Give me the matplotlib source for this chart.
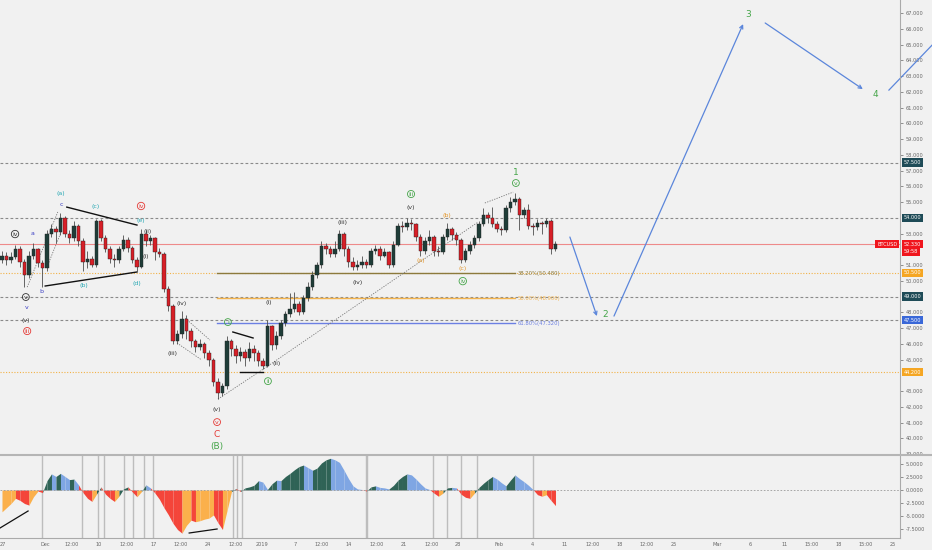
import matplotlib
matplotlib.use("Agg")
from matplotlib import pyplot as plt
from matplotlib.transforms import blended_transform_factory

# candle closes, one per bar (bar 0 = first visible candle)
closes = [51.6, 51.3, 51.5, 52.0, 51.2, 50.4, 51.6, 52.0, 51.1, 50.8,
          53.0, 53.3, 53.1, 54.0, 53.0, 52.7, 53.5, 52.5, 51.2, 51.4,
          51.0, 53.8, 52.7, 52.0, 51.4, 51.3, 52.0, 52.6, 52.1, 51.3,
          50.9, 53.0, 52.5, 52.7, 51.8, 51.7, 49.5, 48.4, 46.2, 46.6,
          47.6, 46.8, 46.2, 45.8, 46.0, 45.4, 45.0, 43.6, 42.9, 43.3,
          46.2, 45.7, 45.2, 45.5, 45.1, 45.7, 45.4, 44.9, 44.6, 47.1,
          45.9, 46.5, 47.3, 47.9, 48.2, 48.5, 48.0, 48.9, 49.6, 50.4,
          51.0, 52.2, 52.0, 51.7, 52.0, 53.0, 52.0, 51.2, 50.9, 51.0,
          51.2, 51.0, 51.9, 52.0, 51.6, 51.8, 51.0, 52.3, 53.5, 53.4,
          53.7, 53.6, 52.8, 51.9, 52.5, 52.8, 51.9, 51.8, 52.8, 53.3,
          52.9, 52.6, 51.3, 51.9, 52.3, 52.7, 53.6, 54.2, 54.0, 53.6,
          53.3, 53.2, 54.6, 55.0, 55.2, 54.2, 54.5, 53.5, 53.4, 53.7,
          53.6, 53.8, 52.0, 52.35]
first_open = 51.3
highs = [51.9, 51.8, 51.8, 52.3, 52.2, 51.4, 51.9, 52.4, 52.1, 51.3,
         53.2, 53.6, 53.5, 54.3, 54.1, 53.2, 53.8, 53.6, 52.7, 51.9,
         51.6, 53.9, 53.9, 52.9, 52.2, 51.7, 52.2, 52.9, 52.8, 52.2,
         51.5, 53.3, 53.2, 52.9, 52.8, 52.1, 51.8, 49.7, 48.5, 46.9,
         48.1, 47.8, 47.0, 46.3, 46.3, 46.1, 45.6, 45.1, 43.8, 43.5,
         46.5, 46.3, 45.9, 45.8, 45.7, 46.1, 45.9, 45.6, 45.1, 47.5,
         47.2, 46.8, 47.5, 48.1, 49.2, 49.3, 48.7, 49.1, 49.9, 50.6,
         51.2, 52.5, 52.4, 52.2, 52.5, 53.2, 53.1, 52.2, 51.5, 51.3,
         51.6, 51.4, 52.1, 52.3, 52.2, 52.1, 51.9, 52.5, 53.7, 53.8,
         54.0, 53.9, 53.7, 53.0, 52.8, 53.2, 52.9, 52.2, 53.0, 53.7,
         53.4, 53.1, 52.7, 52.1, 52.5, 52.9, 53.8, 54.6, 54.4, 54.7,
         53.8, 53.5, 54.8, 55.3, 55.6, 55.3, 54.7, 54.9, 53.7, 53.9,
         53.8, 54.0, 53.9, 52.5]
lows = [51.1, 51.0, 51.1, 51.4, 50.9, 49.6, 50.2, 51.4, 50.9, 49.6,
        50.6, 52.8, 52.4, 52.9, 52.8, 52.4, 52.5, 52.2, 50.6, 50.8,
        50.9, 50.9, 52.5, 51.8, 51.1, 50.9, 51.1, 51.9, 51.8, 51.1,
        50.6, 50.8, 52.2, 52.3, 51.3, 51.5, 49.3, 48.1, 46.0, 46.0,
        46.4, 46.3, 45.8, 45.5, 45.6, 45.1, 44.6, 43.3, 42.5, 42.7,
        43.1, 45.2, 44.8, 44.9, 44.6, 44.9, 44.9, 44.6, 44.4, 44.5,
        45.6, 45.7, 46.3, 47.1, 47.7, 48.0, 47.8, 47.9, 48.7, 49.4,
        50.2, 50.8, 51.7, 51.5, 51.5, 51.9, 51.6, 50.9, 50.7, 50.7,
        50.8, 50.8, 50.9, 51.7, 51.3, 51.5, 50.8, 50.9, 52.2, 53.1,
        53.2, 53.2, 52.5, 51.6, 51.7, 52.3, 51.6, 51.6, 51.7, 52.6,
        52.6, 52.3, 51.1, 51.2, 51.7, 52.1, 52.5, 53.5, 53.7, 53.4,
        53.1, 52.9, 53.1, 54.4, 54.8, 53.2, 54.0, 53.3, 52.9, 53.2,
        53.0, 53.4, 51.7, 51.9]

# oscillator below the price pane, one value per bar
osc = [-4.2, -3.4, -2.6, -1.6, -2.0, -2.6, -2.9, -1.3, -0.2, -0.5,
       1.8, 3.1, 2.6, 3.2, 2.6, 2.0, 2.1, 1.0, -0.5, -1.6,
       -2.2, -0.8, 0.6, -0.8, -1.6, -2.2, -1.2, 0.2, 0.6, -0.4,
       -1.3, -0.3, 1.0, 0.4, -0.6, -1.8, -3.4, -4.8, -6.4, -7.6,
       -8.3, -6.8, -5.8, -6.1, -5.9, -5.6, -5.4, -4.8, -6.3, -7.6,
       -4.0, -0.3, 0.3, -0.3, 0.4, 0.6, 0.9, 1.8, 1.5, 0.1,
       1.2, 1.9, 1.8, 2.6, 3.2, 3.9, 4.5, 4.8, 4.3, 3.8,
       4.2, 5.2, 5.8, 6.1, 5.8, 5.3, 3.8, 2.2, 0.8, 0.2,
       0.1, -0.2, 0.6, 0.8, 0.5, 0.4, 0.2, 0.9, 1.9, 2.6,
       3.1, 2.9, 2.1, 1.2, 0.4, 0.1, -0.6, -1.2, -0.6, 0.4,
       0.5, 0.4, -0.8, -1.4, -1.6, -0.6, 0.5, 1.3, 2.0, 2.6,
       2.1, 1.4, 0.8, 1.9, 2.9, 2.2, 1.6, 0.9, 0.1, -0.9,
       -1.2, -0.9, -2.0, -3.0]
osc_marks = [9, 17.8, 21.3, 22.7, 27.1, 29.1, 31.6, 33.6, 51.3, 52.2, 53.3,
             80.9, 81.1, 95.8, 98.9, 102, 105.6, 118]

time_pos = [0.2, 9.6, 15.6, 21.6, 27.8, 33.6, 39.8, 45.8, 52.0, 57.8, 65.1,
            71.1, 77.1, 83.3, 89.3, 95.6, 101.3, 110.4, 117.8, 125.1, 131.3,
            137.3, 143.3, 149.3, 158.9, 166.2, 174.0, 180.0, 186.0, 192.0, 198.0]
time_labels = ["27", "Dec", "12:00", "10", "12:00", "17", "12:00", "24", "12:00",
               "2019", "7", "12:00", "14", "12:00", "21", "12:00", "28", "Feb",
               "4", "11", "12:00", "18", "12:00", "25", "Mar", "6", "11",
               "15:00", "18", "15:00", "25"]

last_price = 52.33
# horizontal levels: price, line colour, style, tag colour
levels = [(57.5, "#8a8a8a", "dash", "#1e4b57"),
          (54.0, "#8a8a8a", "dash", "#1e4b57"),
          (50.5, "#f2b247", "dot", "#f5a623"),
          (49.0, "#8a8a8a", "dash", "#1e4b57"),
          (47.5, "#8a8a8a", "dash", "#3a68d8"),
          (44.2, "#f2b247", "dot", "#f5a623")]

fib_start, fib_end = 47.8, 114.0
fib_levels = [(50.48, "38.20%(50.480)", "#8c7a3c"),
              (48.90, "50.00%(48.900)", "#f3b34c"),
              (47.32, "61.80%(47.320)", "#6b7fe3")]

DARK, TEAL, BLUE, RED, GREEN, ORANGE = "#333333", "#25a7b3", "#3b3fc4", "#e53935", "#45a549", "#e3962a"
# wave labels: bar, price, text, colour, circled
waves = [(2.9, 52.97, "iv", DARK, True), (5.3, 48.97, "v", DARK, True),
         (5.6, 48.33, "v", BLUE, False), (5.3, 47.51, "(v)", DARK, False),
         (5.6, 46.81, "iii", RED, True), (6.7, 53.03, "a", BLUE, False),
         (8.7, 49.29, "b", BLUE, False), (13.1, 54.87, "c", BLUE, False),
         (13.1, 55.57, "(a)", TEAL, False), (20.7, 54.75, "(c)", TEAL, False),
         (18.2, 49.73, "(b)", TEAL, False), (30.0, 49.86, "(d)", TEAL, False),
         (30.9, 53.86, "(e)", TEAL, False), (30.9, 54.75, "iv", RED, True),
         (32.4, 53.10, "(ii)", DARK, False), (32.0, 51.57, "(i)", DARK, False),
         (38.0, 45.41, "(iii)", DARK, False), (40.0, 48.59, "(iv)", DARK, False),
         (47.8, 41.86, "(v)", DARK, False), (47.8, 41.03, "v", RED, True),
         (50.2, 47.38, "i", GREEN, True), (59.1, 43.63, "ii", GREEN, True),
         (61.1, 44.78, "(ii)", DARK, False), (59.3, 48.65, "(i)", DARK, False),
         (75.6, 53.73, "(iii)", DARK, False), (79.1, 49.92, "(iv)", DARK, False),
         (90.9, 54.68, "(v)", DARK, False), (90.9, 55.51, "iii", GREEN, True),
         (93.1, 51.32, "(a)", ORANGE, False), (98.9, 54.17, "(b)", ORANGE, False),
         (102.4, 50.75, "(c)", ORANGE, False), (102.4, 49.98, "iv", GREEN, True),
         (114.2, 56.21, "v", GREEN, True)]
big_waves = [(47.8, 40.27, "C", RED), (47.8, 39.51, "(B)", GREEN),
             (114.2, 56.90, "1", GREEN), (134.0, 47.83, "2", GREEN),
             (165.8, 66.94, "3", GREEN), (194.0, 61.86, "4", GREEN)]

# projection arrows (bar, price) -> (bar, price)
arrows = [((126.2, 52.78), (132.2, 47.76)), ((136.0, 47.76), (164.7, 66.30)),
          ((169.6, 66.37), (191.3, 62.17))]
arrow_tail = ((197.1, 62.11), (206.7, 64.97))

dotted = [((48.0, 42.49), (59.1, 44.59)), ((59.1, 44.59), (105.8, 53.73)),
          ((5.6, 49.60), (12.4, 54.37)), ((10.0, 50.87), (13.3, 53.22)),
          ((40.7, 47.63), (46.2, 46.24)), ((38.9, 46.05), (44.4, 44.97)),
          ((107.3, 54.94), (113.6, 55.63))]
solid = [((14.4, 54.68), (30.0, 53.54)), ((9.6, 49.67), (30.0, 50.56)),
         ((51.3, 46.75), (55.8, 46.37)), ((52.9, 44.21), (58.0, 44.21))]
osc_lines = [((-0.44, -7.31), (5.8, -4.04)), ((41.6, -8.27), (47.8, -7.5))]

BG = "#f1f1f1"
fig = plt.figure(figsize=(9.32, 5.5), dpi=100, facecolor=BG)
ax = fig.add_axes([0, 95 / 550, 900 / 932, 455 / 550], facecolor=BG)
ai = fig.add_axes([0, 12 / 550, 900 / 932, 83 / 550], facecolor=BG, sharex=ax)

# ---- price pane
opens = [first_open] + closes[:-1]
bars = list(range(len(closes)))
ax.vlines(bars, lows, highs, color="#4d4d4d", lw=0.6, zorder=3)
for i, (o, c) in enumerate(zip(opens, closes)):
    col = "#1f3d38" if c >= o else "#d71f27"
    ax.bar(i, max(abs(c - o), 0.06), bottom=min(o, c), width=0.72, color=col,
           edgecolor="#222222", lw=0.3, zorder=4)

for p, lc, st, tc in levels:
    ls = (0, (2.5, 2)) if st == "dash" else (0, (1, 1.5))
    ax.axhline(p, color=lc, lw=0.8, ls=ls, zorder=1)
ax.axhline(last_price, color="#ee8a8a", lw=0.8, zorder=1)

for p, label, col in fib_levels:
    ax.plot([fib_start, fib_end], [p, p], color=col, lw=1.0, zorder=2)
    ax.text(fib_end + 0.5, p, label, color=col, fontsize=3.8, va="center", ha="left")

for (x0, y0), (x1, y1) in dotted:
    ax.plot([x0, x1], [y0, y1], color="#777777", lw=0.6, ls=(0, (1.5, 1.5)), zorder=2)
for (x0, y0), (x1, y1) in solid:
    ax.plot([x0, x1], [y0, y1], color="#111111", lw=1.0, zorder=5)

for (x0, y0), (x1, y1) in arrows:
    ax.annotate("", xy=(x1, y1), xytext=(x0, y0),
                arrowprops=dict(arrowstyle="->", color="#5b86db", lw=0.9,
                                shrinkA=0, shrinkB=0, mutation_scale=6))
(x0, y0), (x1, y1) = arrow_tail
ax.plot([x0, x1], [y0, y1], color="#5b86db", lw=0.9, clip_on=False)

for x, y, t, col, circ in waves:
    kw = {}
    if circ:
        kw["bbox"] = dict(boxstyle="circle,pad=0.15", fc="none", ec=col, lw=0.6)
    ax.text(x, y, t, color=col, fontsize=4.5, ha="center", va="center", zorder=6, **kw)
for x, y, t, col in big_waves:
    ax.text(x, y, t, color=col, fontsize=6.5, ha="center", va="center", zorder=6)

ax.set_xlim(-0.44, 199.56)
ax.set_ylim(38.94, 67.83)
ax.yaxis.tick_right()
tick_prices = [p for p in range(39, 68) if p not in (54, 49, 44, 52)]
ax.set_yticks(tick_prices)
ax.set_yticklabels([f"{p:.3f}" for p in tick_prices])
ax.tick_params(axis="y", labelsize=3.6, colors="#666666", length=2, width=0.5, pad=2)
ax.tick_params(axis="x", bottom=False, labelbottom=False)
for s in ("top", "left", "bottom"):
    ax.spines[s].set_visible(False)
ax.spines["right"].set_color("#aaaaaa")

tr = blended_transform_factory(ax.transAxes, ax.transData)
for p, lc, st, tc in levels:
    ax.text(1.004, p, f"{p:.3f}", transform=tr, fontsize=3.6, color="white",
            va="center", ha="left", clip_on=False,
            bbox=dict(boxstyle="square,pad=0.35", fc=tc, ec="none"))
ax.text(1.004, last_price, f"{last_price:.3f}", transform=tr, fontsize=3.6,
        color="white", va="center", ha="left", clip_on=False,
        bbox=dict(boxstyle="square,pad=0.35", fc="#f0161d", ec="none"))
ax.text(1.004, last_price - 0.5, "59:58", transform=tr, fontsize=3.6,
        color="white", va="center", ha="left", clip_on=False,
        bbox=dict(boxstyle="square,pad=0.35", fc="#f0161d", ec="none"))
ax.text(0.997, last_price, "BTCUSD", transform=tr, fontsize=3.6, color="white",
        va="center", ha="right", clip_on=False,
        bbox=dict(boxstyle="square,pad=0.35", fc="#f0161d", ec="none"))

# ---- oscillator pane
cols = []
for i, v in enumerate(osc):
    prev = osc[i - 1] if i > 0 else v
    if v >= 0:
        cols.append("#2f6356" if v >= prev else "#7fa6e3")
    else:
        cols.append("#f4453a" if v <= prev else "#fbb04b")
for i in range(1, len(osc)):
    ai.fill_between([i - 1, i], [osc[i - 1], osc[i]], 0, color=cols[i], lw=0, zorder=2)
for m in osc_marks:
    ai.axvline(m, color="#bdbdbd", lw=1.0, zorder=1)
ai.axhline(0, color="#9a9a9a", lw=0.6, ls=(0, (2, 2)), zorder=3)
for (x0, y0), (x1, y1) in osc_lines:
    ai.plot([x0, x1], [y0, y1], color="#111111", lw=0.9, zorder=4)

ai.set_ylim(-9.23, 6.73)
ai.yaxis.tick_right()
osc_ticks = [5, 2.5, 0, -2.5, -5, -7.5]
ai.set_yticks(osc_ticks)
ai.set_yticklabels([f"{t:.4f}" for t in osc_ticks])
ai.tick_params(axis="y", labelsize=3.6, colors="#666666", length=2, width=0.5, pad=2)
ai.set_xticks(time_pos)
ai.set_xticklabels(time_labels)
ai.tick_params(axis="x", labelsize=3.6, colors="#666666", length=0, pad=3)
for s in ("top", "left"):
    ai.spines[s].set_visible(False)
ai.spines["right"].set_color("#aaaaaa")
ai.spines["bottom"].set_color("#aaaaaa")

# pane separator
fig.add_artist(plt.Line2D([0, 1], [95 / 550, 95 / 550], color="#b5b5b5", lw=1.5))

fig.savefig("out.png", dpi=100, facecolor=BG)
